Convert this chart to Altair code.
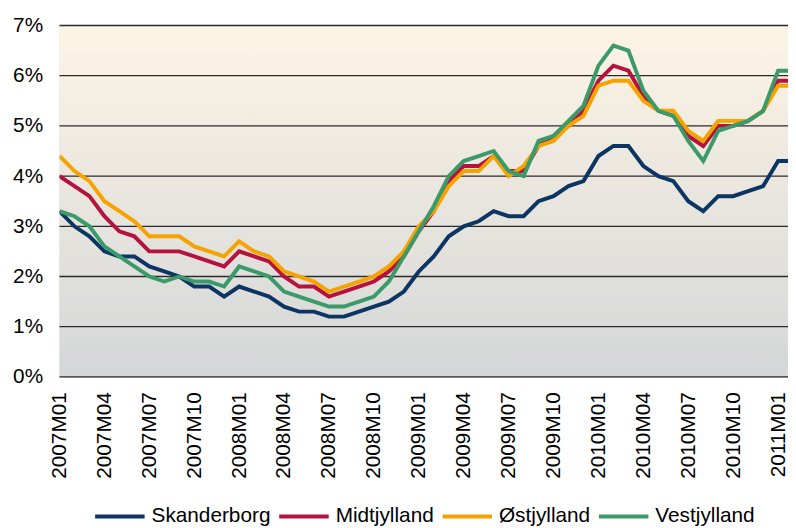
import altair as alt
import pandas as pd

# Month labels 2007M01 .. 2011M02
months = [f"{2007 + k // 12}M{k % 12 + 1:02d}" for k in range(50)]

series_names = ["Skanderborg", "Midtjylland", "Østjylland", "Vestjylland"]
series_colors = ["#0d3563", "#b5123e", "#f5a300", "#3a9a69"]

skanderborg = [3.3, 3.0, 2.8, 2.5, 2.4, 2.4, 2.2, 2.1, 2.0, 1.8, 1.8, 1.6,
               1.8, 1.7, 1.6, 1.4, 1.3, 1.3, 1.2, 1.2, 1.3, 1.4, 1.5, 1.7,
               2.1, 2.4, 2.8, 3.0, 3.1, 3.3, 3.2, 3.2, 3.5, 3.6, 3.8, 3.9,
               4.4, 4.6, 4.6, 4.2, 4.0, 3.9, 3.5, 3.3, 3.6, 3.6, 3.7, 3.8,
               4.3, 4.3]
midtjylland = [4.0, 3.8, 3.6, 3.2, 2.9, 2.8, 2.5, 2.5, 2.5, 2.4, 2.3, 2.2,
               2.5, 2.4, 2.3, 2.0, 1.8, 1.8, 1.6, 1.7, 1.8, 1.9, 2.1, 2.4,
               2.9, 3.3, 3.9, 4.2, 4.2, 4.4, 4.1, 4.1, 4.6, 4.8, 5.0, 5.3,
               5.9, 6.2, 6.1, 5.6, 5.3, 5.2, 4.8, 4.6, 5.0, 5.0, 5.1, 5.3,
               5.9, 5.9]
ostjylland = [4.4, 4.1, 3.9, 3.5, 3.3, 3.1, 2.8, 2.8, 2.8, 2.6, 2.5, 2.4,
              2.7, 2.5, 2.4, 2.1, 2.0, 1.9, 1.7, 1.8, 1.9, 2.0, 2.2, 2.5,
              3.0, 3.3, 3.8, 4.1, 4.1, 4.4, 4.0, 4.2, 4.6, 4.7, 5.0, 5.2,
              5.8, 5.9, 5.9, 5.5, 5.3, 5.3, 4.9, 4.7, 5.1, 5.1, 5.1, 5.3,
              5.8, 5.8]
vestjylland = [3.3, 3.2, 3.0, 2.6, 2.4, 2.2, 2.0, 1.9, 2.0, 1.9, 1.9, 1.8,
               2.2, 2.1, 2.0, 1.7, 1.6, 1.5, 1.4, 1.4, 1.5, 1.6, 1.9, 2.4,
               2.9, 3.4, 4.0, 4.3, 4.4, 4.5, 4.1, 4.0, 4.7, 4.8, 5.1, 5.4,
               6.2, 6.6, 6.5, 5.7, 5.3, 5.2, 4.7, 4.3, 4.9, 5.0, 5.1, 5.3,
               6.1, 6.1]

y_ticks = [0, 1, 2, 3, 4, 5, 6, 7]
x_tick_idx = list(range(0, 49, 3))

W, H = 736, 355
X_MAX = 48.66

rows = []
for name, vals in zip(series_names,
                      [skanderborg, midtjylland, ostjylland, vestjylland]):
    for k, v in enumerate(vals):
        rows.append({"idx": k, "month": months[k], "series": name, "value": v})
df = pd.DataFrame(rows)

label_expr = ("toString(2007 + floor(datum.value / 12)) + 'M' + "
              "(datum.value % 12 < 9 ? '0' : '') + toString(datum.value % 12 + 1)")

x_enc = alt.X("idx:Q",
              scale=alt.Scale(domain=[0, X_MAX], nice=False, zero=False),
              axis=alt.Axis(values=x_tick_idx, labelExpr=label_expr, title=None,
                            grid=False, domain=False, ticks=False, tickSize=0,
                            labelAngle=270, labelAlign="right", labelBaseline="middle",
                            labelFontSize=21, labelFont="Liberation Sans",
                            labelColor="#000000", labelPadding=15, labelOverlap=False,
                            labelFlush=False))
y_scale = alt.Scale(domain=[0, 7], nice=False)
y_axis = alt.Axis(values=y_ticks, labelExpr="datum.value + '%'", title=None,
                  grid=False, domain=False, ticks=False, tickSize=0,
                  labelFontSize=21, labelFont="Liberation Sans",
                  labelColor="#000000", labelPadding=17)

bg = alt.Chart(pd.DataFrame({"a": [0]})).mark_rect(
    color=alt.LinearGradient(
        gradient="linear",
        stops=[alt.GradientStop(offset=0, color="#fdf4e5"),
               alt.GradientStop(offset=1, color="#d4d7d8")],
        x1=0, x2=0, y1=0, y2=1)
).encode(x=alt.value(0), x2=alt.value(W), y=alt.value(0), y2=alt.value(H))

grid = alt.Chart(pd.DataFrame({"v": y_ticks})).mark_rule(
    color="#2a2a2a", strokeWidth=1.3
).encode(
    y=alt.Y("v:Q", scale=y_scale, axis=y_axis),
    x=alt.value(0), x2=alt.value(W))

color_enc = alt.Color(
    "series:N",
    scale=alt.Scale(domain=series_names, range=series_colors),
    legend=alt.Legend(orient="none", direction="horizontal", columns=4,
                      legendX=34, legendY=469, title=None,
                      symbolType="stroke", symbolSize=2500, symbolStrokeWidth=4,
                      labelFontSize=21, labelFont="Liberation Sans",
                      labelColor="#000000", labelOffset=5, columnPadding=0))

lines = [
    alt.Chart(df).transform_filter(alt.datum.series == s).mark_line(
        strokeWidth=4, clip=True
    ).encode(x=x_enc, y=alt.Y("value:Q", scale=y_scale, axis=y_axis), color=color_enc)
    for s in series_names
]

chart = alt.layer(bg, grid, *lines).properties(
    width=W, height=H,
    autosize=alt.AutoSizeParams(type="none"),
    padding={"left": 52, "top": 15, "right": 0, "bottom": 150},
).configure_view(stroke=None).configure(background="white")

chart.save("out.html", embed_options={"renderer": "svg", "actions": False})
